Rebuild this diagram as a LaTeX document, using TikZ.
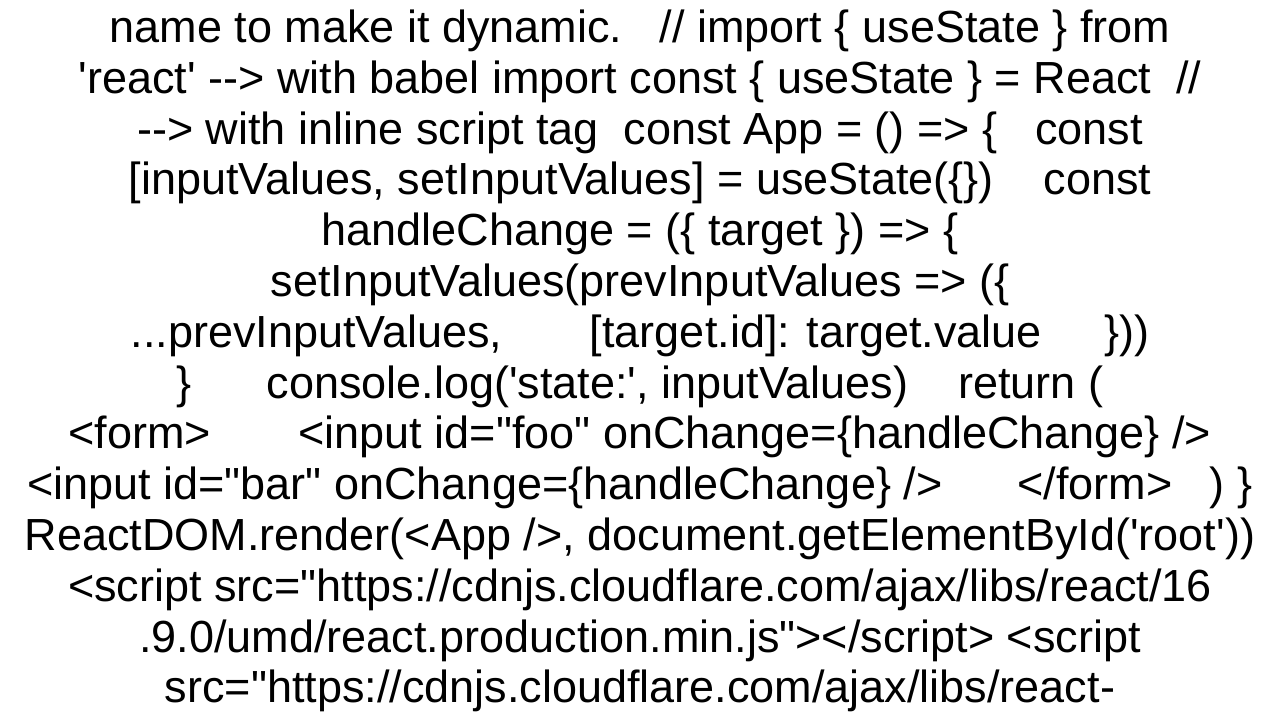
\documentclass[tikz,border=0pt]{standalone}
\usepackage{fontspec}
\newfontfamily\arial{Liberation Sans}
\begin{document}
\begin{tikzpicture}[x=0.5pt,y=-0.5pt,
    codeline/.style={anchor=base,inner sep=0pt,font=\arial\fontsize{22.5}{27}\selectfont}]
			\useasboundingbox (0,0) rectangle (1280,720);					% page
			\node[codeline] (l1)  at (640,42)  {name to make it dynamic.\ \ \ // import \{ useState \} from};
			\node[codeline] (l2)  at (640,93)  {'react' --> with babel import const \{ useState \} = React\ \ //};
			\node[codeline] (l3)  at (640,144) {--> with inline script tag\ \ const App = () => \{\ \ \ const};
			\node[codeline] (l4)  at (640,194) {[inputValues, setInputValues] = useState(\{\})\ \ \ \ const};
			\node[codeline] (l5)  at (640,245) {handleChange = (\{ target \}) => \{};
			\node[codeline] (l6)  at (640,296) {setInputValues(prevInputValues => (\{};
			\node[codeline] (l7)  at (640,347) {...prevInputValues,\ \ \ \ \ \ \ [target.id]: target.value\ \ \ \ \ \}))};
			\node[codeline] (l8)  at (640,398) {\}\ \ \ \ \ \ console.log('state:', inputValues)\ \ \ \ return (};
			\node[codeline] (l9)  at (640,448) {<form>\ \ \ \ \ \ \ <input id="foo" onChange=\{handleChange\} />};
			\node[codeline] (l10) at (640,499) {<input id="bar" onChange=\{handleChange\} />\ \ \ \ \ \ </form>\ \ \ ) \}};
			\node[codeline] (l11) at (640,550) {ReactDOM.render(<App />, document.getElementById('root'))};
			\node[codeline] (l12) at (640,601) {<script src="https://cdnjs.cloudflare.com/ajax/libs/react/16};
			\node[codeline] (l13) at (640,652) {.9.0/umd/react.production.min.js"></script> <script};
			\node[codeline] (l14) at (640,702) {src="https://cdnjs.cloudflare.com/ajax/libs/react-};
		\end{tikzpicture}
\end{document}
